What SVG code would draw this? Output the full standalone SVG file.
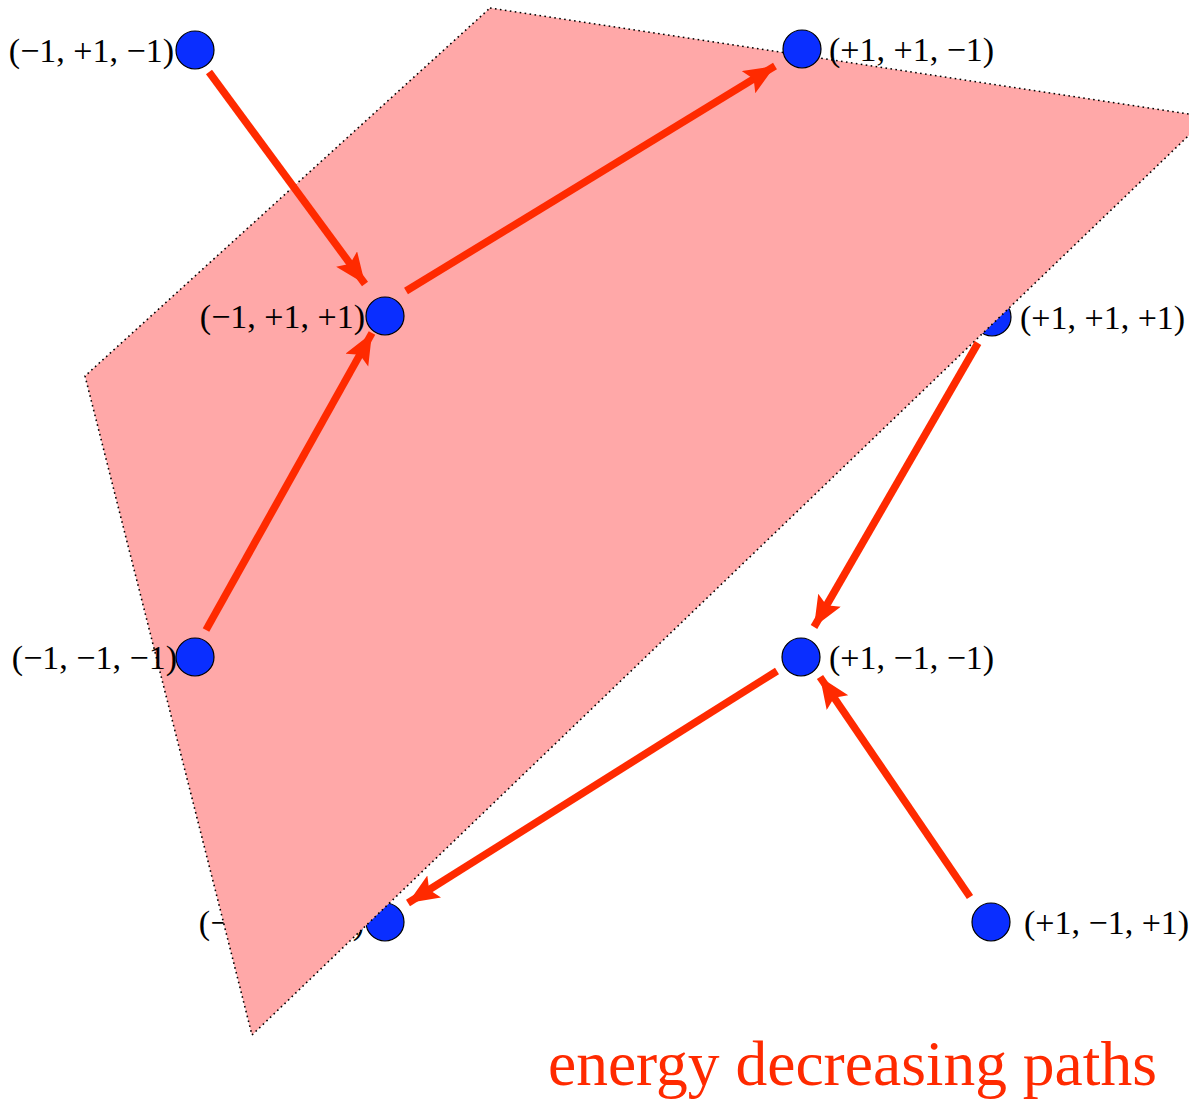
<svg xmlns="http://www.w3.org/2000/svg" width="1189" height="1103" viewBox="0 0 1189 1103">
<style>
.node{fill:#0A2EFF;stroke:#000;stroke-width:1.2}
.lbl{font-family:"Liberation Serif","Times New Roman",serif;font-size:34px;fill:#000}
.edge{stroke:#FF2A00;stroke-width:7.5;fill:none}
.plane{fill:#FFA8A8;stroke:#000;stroke-width:1.6;stroke-dasharray:1.6 3.4}
.title{font-family:"Liberation Serif","Times New Roman",serif;font-size:63.5px;fill:#FF2A00}
</style>
<defs>
<marker id="ah" markerUnits="userSpaceOnUse" markerWidth="34" markerHeight="28" refX="31" refY="13" orient="auto">
<path d="M0,0 L31,13 L0,26 L6,13 Z" fill="#FF2A00"/>
</marker>
</defs>
<rect width="1189" height="1103" fill="#fff"/>
<g id="n-m1m1p1">
<circle class="node" cx="385" cy="922" r="19"/>
<text class="lbl" x="364" y="934" text-anchor="end">(−1, −1, +1)</text>
</g>
<g id="n-p1p1p1">
<circle class="node" cx="992" cy="317" r="19"/>
<text class="lbl" x="1020" y="329">(+1, +1, +1)</text>
</g>
<polygon id="plane" class="plane" points="490,8 1208,117 252,1035 85,376"/>
<g id="n-m1p1m1">
<circle class="node" cx="195" cy="50" r="19"/>
<text class="lbl" x="174" y="62" text-anchor="end">(−1, +1, −1)</text>
</g>
<g id="n-p1p1m1">
<circle class="node" cx="802" cy="49" r="19"/>
<text class="lbl" x="829" y="61">(+1, +1, −1)</text>
</g>
<g id="n-m1p1p1">
<circle class="node" cx="385" cy="316" r="19"/>
<text class="lbl" x="365" y="328" text-anchor="end">(−1, +1, +1)</text>
</g>
<g id="n-m1m1m1">
<circle class="node" cx="195" cy="657" r="19"/>
<text class="lbl" x="177" y="669" text-anchor="end">(−1, −1, −1)</text>
</g>
<g id="n-p1m1m1">
<circle class="node" cx="801" cy="657" r="19"/>
<text class="lbl" x="829" y="669">(+1, −1, −1)</text>
</g>
<g id="n-p1m1p1">
<circle class="node" cx="991" cy="922" r="19"/>
<text class="lbl" x="1024" y="934">(+1, −1, +1)</text>
</g>
<g id="edges">
<line class="edge" x1="209" y1="72" x2="365" y2="284" marker-end="url(#ah)"/>
<line class="edge" x1="406" y1="291" x2="775" y2="66" marker-end="url(#ah)"/>
<line class="edge" x1="206" y1="630" x2="372" y2="333" marker-end="url(#ah)"/>
<line class="edge" x1="978" y1="343" x2="814" y2="627" marker-end="url(#ah)"/>
<line class="edge" x1="777" y1="671" x2="408" y2="903" marker-end="url(#ah)"/>
<line class="edge" x1="970" y1="897" x2="820" y2="677" marker-end="url(#ah)"/>
</g>
<text class="title" x="548" y="1085">energy decreasing paths</text>
</svg>
